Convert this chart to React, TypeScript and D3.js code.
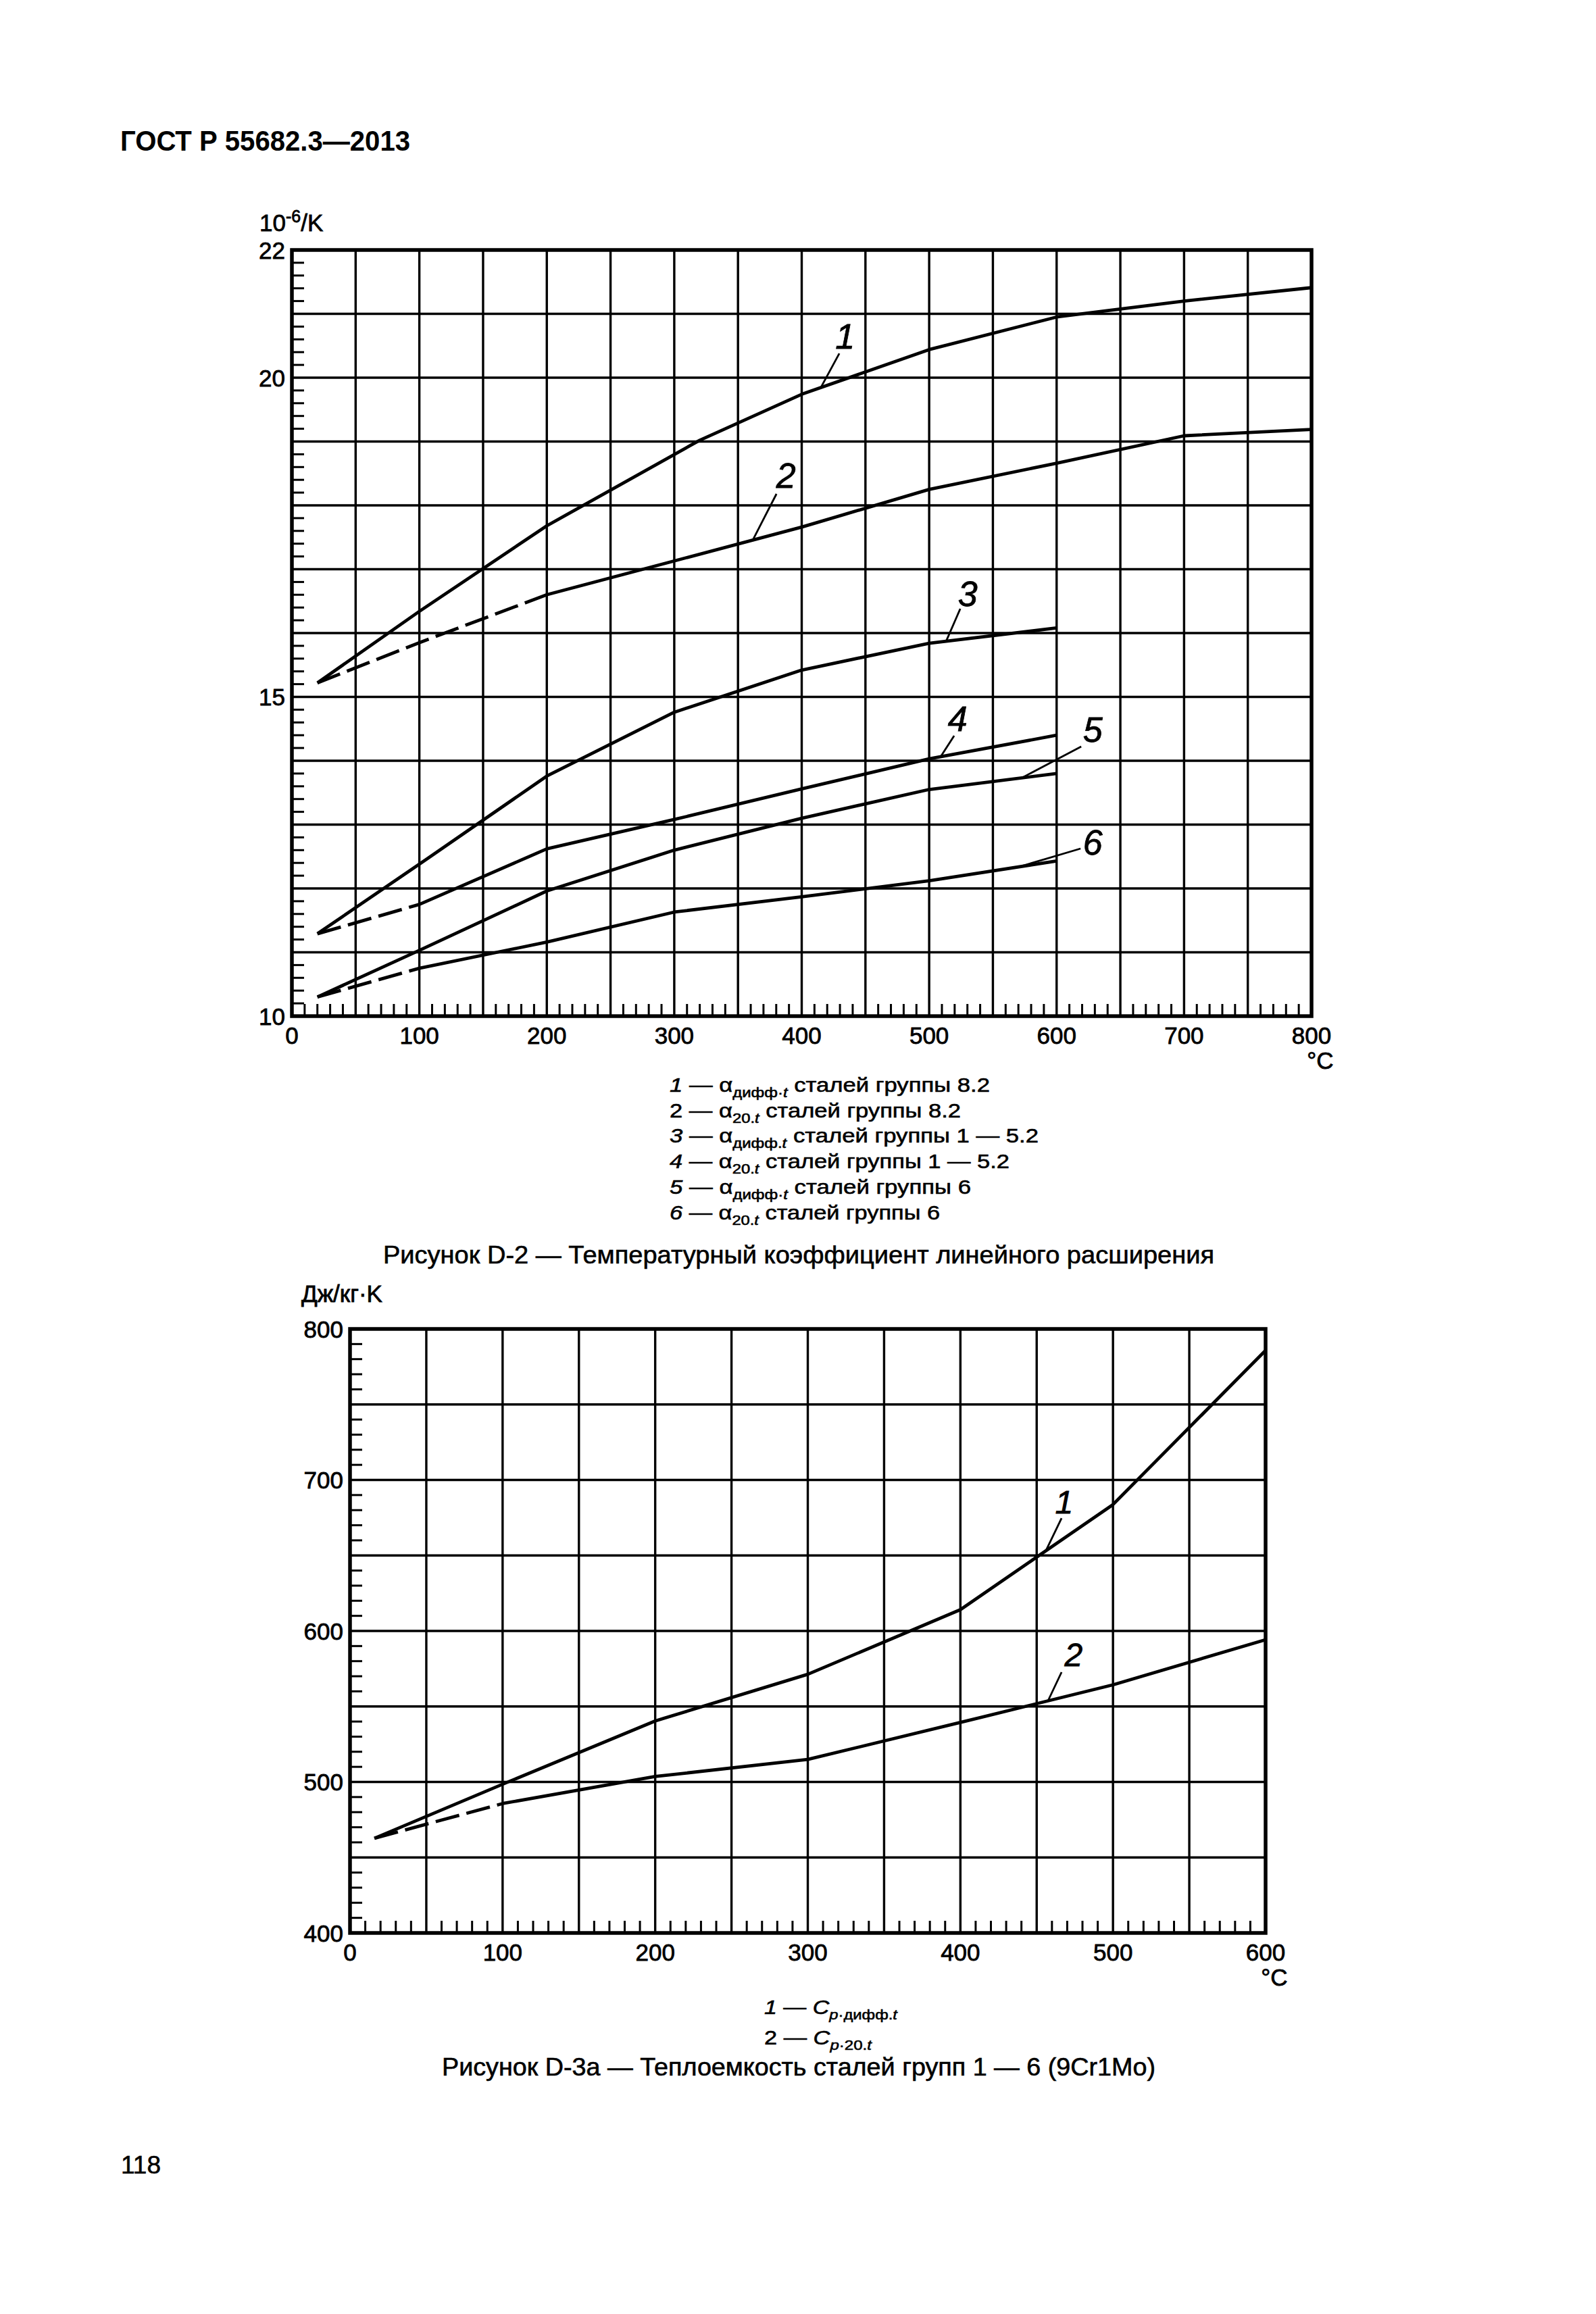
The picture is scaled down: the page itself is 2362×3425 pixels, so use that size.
import { useMemo } from 'react';
import * as d3 from 'd3';

const FONT = '"Liberation Sans", Arial, Helvetica, sans-serif';

// ---- Рисунок D-2: коэффициент линейного расширения, 10^-6/K ----
const tempA1 = [20, 100, 200, 320, 400, 500, 600, 700, 800];
const alpha1 = [15.22, 16.34, 17.68, 19.02, 19.74, 20.44, 20.95, 21.2, 21.41];
const tempA2 = [20, 100, 200, 300, 400, 500, 600, 700, 800];
const alpha2 = [15.22, 15.85, 16.6, 17.13, 17.66, 18.25, 18.66, 19.09, 19.19];
const tempA36 = [20, 100, 200, 300, 400, 500, 600];
const alpha3 = [11.29, 12.38, 13.76, 14.76, 15.42, 15.84, 16.08];
const alpha4 = [11.29, 11.75, 12.62, 13.08, 13.56, 14.03, 14.4];
const alpha5 = [10.3, 11.03, 11.96, 12.6, 13.1, 13.55, 13.8];
const alpha6 = [10.3, 10.75, 11.16, 11.63, 11.87, 12.12, 12.43];
// dashed part of a curve runs from the first point up to this temperature
const alphaDashedTo = [0, 200, 0, 100, 0, 100];

const alphaYLabels = [10, 15, 20, 22];
const alphaXLabels = [0, 100, 200, 300, 400, 500, 600, 700, 800];

// curve number labels: label position, leader start, leader end temperature on the curve
const alphaNotes = [
  { n: '1', lt: 434, lv: 20.455, st: 429.5, sv: 20.38, et: 415 },
  { n: '2', lt: 387.6, lv: 18.275, st: 380.2, sv: 18.18, et: 361.6 },
  { n: '3', lt: 530.2, lv: 16.423, st: 524.4, sv: 16.381, et: 513.3 },
  { n: '4', lt: 522.3, lv: 14.466, st: 519.6, sv: 14.392, et: 509 },
  { n: '5', lt: 628.3, lv: 14.296, st: 619.3, sv: 14.222, et: 572.6 },
  { n: '6', lt: 628.3, lv: 12.529, st: 618.8, sv: 12.624, et: 570.5 },
];

const alphaLegendNums = ['1', '2', '3', '4', '5', '6'];
const alphaLegendSubs = ['дифф·', '20.', 'дифф.', '20.', 'дифф·', '20.'];
const alphaLegendGroups = ['8.2', '8.2', '1 — 5.2', '1 — 5.2', '6', '6'];

// ---- Рисунок D-3a: теплоемкость, Дж/кг·K ----
const tempCp = [16, 100, 200, 300, 400, 500, 600];
const cp1 = [462.7, 498.5, 540.4, 571.3, 614.1, 683.7, 785.8];
const cp2 = [462.7, 485.7, 503.6, 514.9, 539.4, 564.3, 594.2];
const cpDashedTo = [0, 100];
const cpYLabels = [400, 500, 600, 700, 800];
const cpXLabels = [0, 100, 200, 300, 400, 500, 600];
const cpNotes = [
  { n: '1', lt: 468, lv: 677.9, st: 466.3, sv: 674.7, et: 456 },
  { n: '2', lt: 474.2, lv: 576.7, st: 466.3, sv: 572.7, et: 457.4 },
];

type Series = { t: number[]; v: number[]; dashedTo: number };
type Note = { n: string; lt: number; lv: number; st: number; sv: number; et: number };

type ChartProps = {
  left: number;
  right: number;
  top: number;
  bottom: number;
  xMax: number;
  yMin: number;
  yMax: number;
  gridX: number[];
  gridY: number[];
  minorX: number[];
  minorY: number[];
  xLabels: number[];
  yLabels: number[];
  series: Series[];
  notes: Note[];
  noteSize: number;
};

const interp = (s: Series, t: number) => d3.scaleLinear().domain(s.t).range(s.v)(t);

// the scanned text is a little heavier than plain regular weight
const heavy = { stroke: '#000', strokeWidth: 0.8 };

const Chart = (p: ChartProps) => {
  const x = useMemo(
    () => d3.scaleLinear().domain([0, p.xMax]).range([p.left, p.right]),
    [p.left, p.right, p.xMax]
  );
  const y = useMemo(
    () => d3.scaleLinear().domain([p.yMin, p.yMax]).range([p.bottom, p.top]),
    [p.bottom, p.top, p.yMin, p.yMax]
  );
  const line = d3
    .line<[number, number]>()
    .x((d) => x(d[0]))
    .y((d) => y(d[1]));

  return (
    <g>
      {p.gridX.map((t) => (
        <line key={'gx' + t} x1={x(t)} x2={x(t)} y1={p.top} y2={p.bottom} stroke="#000" strokeWidth={3.4} />
      ))}
      {p.gridY.map((v) => (
        <line key={'gy' + v} x1={p.left} x2={p.right} y1={y(v)} y2={y(v)} stroke="#000" strokeWidth={3.6} />
      ))}
      {p.minorY.map((v) => (
        <line key={'my' + v} x1={p.left} x2={p.left + 18} y1={y(v)} y2={y(v)} stroke="#000" strokeWidth={3} />
      ))}
      {p.minorX.map((t) => (
        <line key={'mx' + t} x1={x(t)} x2={x(t)} y1={p.bottom} y2={p.bottom - 18} stroke="#000" strokeWidth={3} />
      ))}
      <rect
        x={p.left}
        y={p.top}
        width={p.right - p.left}
        height={p.bottom - p.top}
        fill="none"
        stroke="#000"
        strokeWidth={5.5}
      />
      {p.yLabels.map((v) => (
        <text key={'yl' + v} x={p.left - 10} y={y(v)} dy="0.36em" textAnchor="end" fontSize={35} {...heavy}>
          {v}
        </text>
      ))}
      {p.xLabels.map((t) => (
        <text key={'xl' + t} x={x(t)} y={p.bottom + 41} textAnchor="middle" fontSize={35} {...heavy}>
          {t}
        </text>
      ))}
      <text x={p.right + 13} y={p.bottom + 78} textAnchor="middle" fontSize={35} {...heavy}>
        °C
      </text>
      {p.series.map((s, i) => {
        const pts = s.t.map((t, j) => [t, s.v[j]] as [number, number]);
        const dashed = s.dashedTo ? pts.filter((d) => d[0] <= s.dashedTo) : [];
        const solid = s.dashedTo ? pts.filter((d) => d[0] >= s.dashedTo) : pts;
        return (
          <g key={'s' + i} fill="none" stroke="#000" strokeWidth={4.8} strokeLinejoin="round">
            {dashed.length > 1 && <path d={line(dashed) ?? ''} strokeDasharray="36 11" />}
            <path d={line(solid) ?? ''} />
          </g>
        );
      })}
      {p.notes.map((nt, i) => {
        const s = p.series[i];
        return (
          <g key={'n' + i}>
            <line
              x1={x(nt.st)}
              y1={y(nt.sv)}
              x2={x(nt.et)}
              y2={y(interp(s, nt.et))}
              stroke="#000"
              strokeWidth={2.8}
            />
            <text
              x={x(nt.lt)}
              y={y(nt.lv)}
              textAnchor="middle"
              fontSize={p.noteSize}
              fontStyle="italic"
              {...heavy}
            >
              {nt.n}
            </text>
          </g>
        );
      })}
    </g>
  );
};

const minorAlphaY = d3.range(50, 110).filter((i) => i % 5 !== 0).map((i) => i / 5);

export default function App() {
  const alphaSeries: Series[] = [
    { t: tempA1, v: alpha1, dashedTo: alphaDashedTo[0] },
    { t: tempA2, v: alpha2, dashedTo: alphaDashedTo[1] },
    { t: tempA36, v: alpha3, dashedTo: alphaDashedTo[2] },
    { t: tempA36, v: alpha4, dashedTo: alphaDashedTo[3] },
    { t: tempA36, v: alpha5, dashedTo: alphaDashedTo[4] },
    { t: tempA36, v: alpha6, dashedTo: alphaDashedTo[5] },
  ];
  const cpSeries: Series[] = [
    { t: tempCp, v: cp1, dashedTo: cpDashedTo[0] },
    { t: tempCp, v: cp2, dashedTo: cpDashedTo[1] },
  ];

  const legendY = [1616, 1654, 1691, 1729, 1767, 1805];
  const legendW = [474, 431, 546, 503, 446, 400];

  return (
    <div style={{ position: 'absolute', left: 0, top: 0, background: '#fff' }}>
      <svg width={2362} height={3425} fontFamily={FONT} fill="#000" style={{ display: 'block' }}>
        <rect width={2362} height={3425} fill="#fff" />
        <text x={178} y={223} fontSize={43} fontWeight="bold" textLength={429} lengthAdjust="spacingAndGlyphs">
          ГОСТ Р 55682.3—2013
        </text>

        <text x={384} y={342} fontSize={35} {...heavy}>
          10<tspan dy={-13} fontSize={25}>-6</tspan>
          <tspan dy={13}>/K</tspan>
        </text>
        <Chart
          left={432}
          right={1941}
          top={370}
          bottom={1504}
          xMax={800}
          yMin={10}
          yMax={22}
          gridX={d3.range(50, 800, 50)}
          gridY={d3.range(11, 22, 1)}
          minorX={d3.range(0, 800, 10).filter((t) => t % 50 !== 0)}
          minorY={minorAlphaY}
          xLabels={alphaXLabels}
          yLabels={alphaYLabels}
          series={alphaSeries}
          notes={alphaNotes}
          noteSize={52}
        />

        {alphaLegendNums.map((n, i) => (
          <text
            key={'lg' + i}
            x={991}
            y={legendY[i]}
            fontSize={29}
            textLength={legendW[i]}
            lengthAdjust="spacingAndGlyphs"
            {...heavy}
            strokeWidth={0.6}
          >
            <tspan fontStyle={n === '2' ? 'normal' : 'italic'}>{n}</tspan>
            {' — '}
            <tspan>α</tspan>
            <tspan fontSize={20} dy={8}>
              {alphaLegendSubs[i]}
              <tspan fontStyle="italic">t</tspan>
            </tspan>
            <tspan dy={-8}>{' сталей группы ' + alphaLegendGroups[i]}</tspan>
          </text>
        ))}
        <text
          x={567}
          y={1870}
          fontSize={37}
          textLength={1230}
          lengthAdjust="spacingAndGlyphs"
          {...heavy}
          strokeWidth={0.6}
        >
          Рисунок D-2 — Температурный коэффициент линейного расширения
        </text>

        <text x={446} y={1927} fontSize={35} {...heavy}>
          Дж/кг·K
        </text>
        <Chart
          left={518}
          right={1873}
          top={1967}
          bottom={2861}
          xMax={600}
          yMin={400}
          yMax={800}
          gridX={d3.range(50, 600, 50)}
          gridY={d3.range(450, 800, 50)}
          minorX={d3.range(0, 600, 10).filter((t) => t % 50 !== 0)}
          minorY={d3.range(400, 800, 10).filter((v) => v % 50 !== 0)}
          xLabels={cpXLabels}
          yLabels={cpYLabels}
          series={cpSeries}
          notes={cpNotes}
          noteSize={48}
        />

        <text
          x={1131}
          y={2981}
          fontSize={30}
          textLength={197}
          lengthAdjust="spacingAndGlyphs"
          {...heavy}
          strokeWidth={0.6}
        >
          <tspan fontStyle="italic">1</tspan>
          {' — '}
          <tspan fontStyle="italic">C</tspan>
          <tspan fontSize={21} dy={8}>
            <tspan fontStyle="italic">p</tspan>·дифф.<tspan fontStyle="italic">t</tspan>
          </tspan>
        </text>
        <text
          x={1131}
          y={3026}
          fontSize={30}
          textLength={159}
          lengthAdjust="spacingAndGlyphs"
          {...heavy}
          strokeWidth={0.6}
        >
          2{' — '}
          <tspan fontStyle="italic">C</tspan>
          <tspan fontSize={21} dy={8}>
            <tspan fontStyle="italic">p</tspan>·20.<tspan fontStyle="italic">t</tspan>
          </tspan>
        </text>
        <text
          x={654}
          y={3072}
          fontSize={37}
          textLength={1056}
          lengthAdjust="spacingAndGlyphs"
          {...heavy}
          strokeWidth={0.6}
        >
          Рисунок D-3a — Теплоемкость сталей групп 1 — 6 (9Cr1Mo)
        </text>

        <text x={179} y={3217} fontSize={37} {...heavy} strokeWidth={0.6}>
          118
        </text>
      </svg>
    </div>
  );
}
